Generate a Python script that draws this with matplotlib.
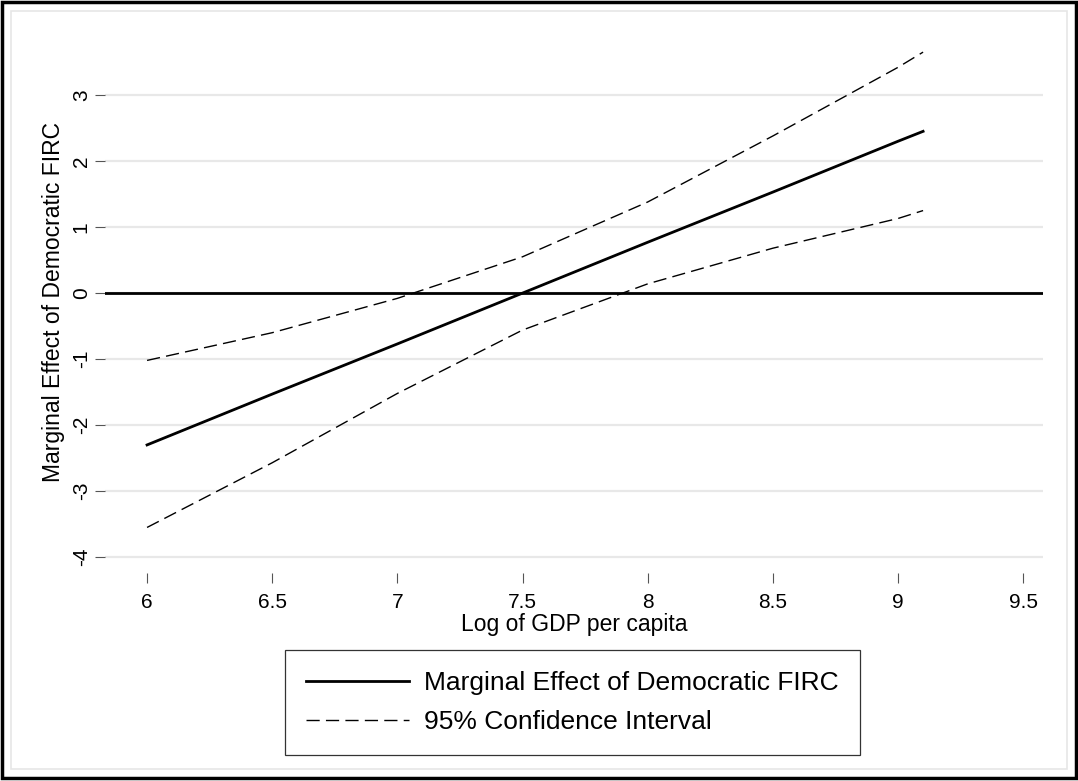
import numpy as np
import matplotlib.pyplot as plt
from matplotlib.patches import Rectangle
from matplotlib.lines import Line2D

plt.rcParams['font.family'] = ['Liberation Sans', 'DejaVu Sans']

# values
gdp = [6.0, 6.5, 7.0, 7.5, 8.0, 8.5, 9.0, 9.1]
effect = [-2.30, -1.53, -0.77, 0.0, 0.77, 1.53, 2.30, 2.45]
upper = [-1.02, -0.60, -0.08, 0.55, 1.38, 2.38, 3.42, 3.65]
lower = [-3.55, -2.57, -1.52, -0.56, 0.14, 0.68, 1.13, 1.25]

xticks = [6, 6.5, 7, 7.5, 8, 8.5, 9, 9.5]
xticklabels = ['6', '6.5', '7', '7.5', '8', '8.5', '9', '9.5']
yticks = [-4, -3, -2, -1, 0, 1, 2, 3]

W, H = 1078, 781
fig = plt.figure(figsize=(W / 100, H / 100), dpi=100)

# axes box in pixels (left, top, right, bottom)
L, T, R, B = 105, 30, 1043, 573
ax = fig.add_axes([L / W, 1 - B / H, (R - L) / W, (B - T) / H])

ax.set_xlim(5.832, 9.579)
ax.set_ylim(-4.24, 3.985)

for s in ax.spines.values():
    s.set_visible(False)

ax.set_yticks(yticks)
ax.set_yticklabels([str(v) for v in yticks], rotation=90, va='center')
ax.set_xticks(xticks)
ax.set_xticklabels(xticklabels)
ax.tick_params(axis='both', direction='out', length=7.2, width=0.8,
               color='#555555', labelsize=15)
ax.tick_params(axis='x', pad=7)
ax.tick_params(axis='y', pad=3)

ax.grid(axis='y', color='#e8e8e8', linewidth=1.6)
ax.grid(axis='x', visible=False)
ax.set_axisbelow(True)

ax.axhline(0, color='black', linewidth=2.0)
ax.plot(gdp, effect, color='black', linewidth=2.0)
ax.plot(gdp, upper, color='black', linewidth=1.0, dashes=(9.5, 4.5))
ax.plot(gdp, lower, color='black', linewidth=1.0, dashes=(9.5, 4.5))

ax.set_xlabel('Log of GDP per capita', fontsize=16.5, labelpad=1)
ax.set_ylabel('Marginal Effect of Democratic FIRC', fontsize=16.5, labelpad=5)

handles = [Line2D([], [], color='black', linewidth=2.0),
           Line2D([], [], color='black', linewidth=1.0, dashes=(9.5, 4.5))]
leg = fig.legend(handles, ['Marginal Effect of Democratic FIRC', '95% Confidence Interval'],
                 loc='center', bbox_to_anchor=(572.5 / W, 1 - 702.5 / H),
                 fontsize=19, frameon=True, fancybox=False, shadow=False,
                 edgecolor='black', handlelength=3.9, handletextpad=0.55,
                 borderpad=0.8, labelspacing=0.55)
leg.get_frame().set_linewidth(0.9)

# light inner frame and black outer border
fig.patches.append(Rectangle((11 / W, 1 - 769 / H), (1067 - 11) / W, (769 - 11) / H,
                             transform=fig.transFigure, fill=False,
                             edgecolor='#e6e6e6', linewidth=1.2))
fig.patches.append(Rectangle((0.0015, 0.004), 0.997, 0.994,
                             transform=fig.transFigure, fill=False,
                             edgecolor='black', linewidth=2.5))

fig.savefig('out.png', dpi=100)
